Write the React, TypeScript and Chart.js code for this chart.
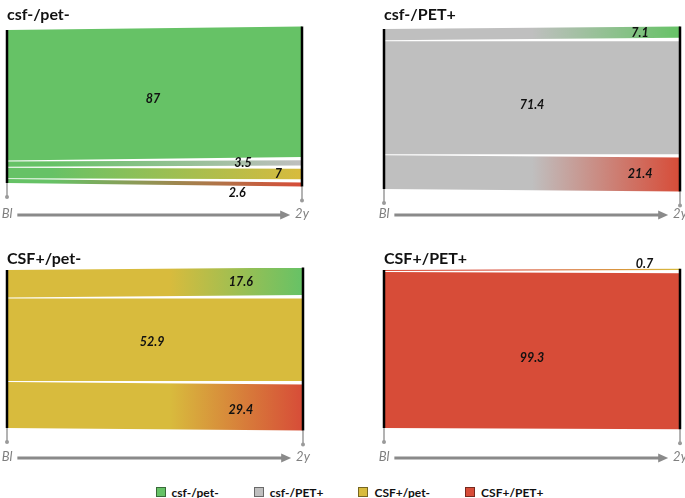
import React, { useEffect, useRef } from 'react';
import { Chart, registerables } from 'chart.js';

Chart.register(...registerables);

// ---------- data ----------
const states = ['csf-/pet-', 'csf-/PET+', 'CSF+/pet-', 'CSF+/PET+'];
const stateColors = ['#66c266', '#bfbfbf', '#d8bb3d', '#d74c38'];
const timeLabels = ['Bl', '2y'];

// % of each baseline group in each state at 2y (ordered as `states`)
const fromCsfNegPetNeg = [87, 3.5, 7, 2.6];
const fromCsfNegPetPos = [7.1, 71.4, 0, 21.4];
const fromCsfPosPetNeg = [17.6, 0, 52.9, 29.4];
const fromCsfPosPetPos = [0, 0, 0.7, 99.3];
const groupValues = [fromCsfNegPetNeg, fromCsfNegPetPos, fromCsfPosPetNeg, fromCsfPosPetPos];

// ---------- layout ----------
const FONT = 'Lato, "Open Sans", sans-serif';
const LEFT_GAP = 0.65;
const RIGHT_GAP = 2.2;
const PAD_L = 7;
const PAD_R = 8;
const TITLE_BLOCK = 24;
const AXIS_H = 15.6;
const STUB_PX = 14;

type PanelLayout = {
  left: number; top: number; x0: number; x1: number; y0: number; y100: number;
  areaBottom: number; gradStart: number; labelX: number[]; labelDy: number[];
};

const layouts: PanelLayout[] = [
  { left: 0, top: 0, x0: 7, x1: 302, y0: 30, y100: 183, areaBottom: 206, gradStart: 0.15, labelX: [0.495, 0.8, 0.92, 0.78], labelDy: [5, 0, 0, 0] },
  { left: 377, top: 0, x0: 384, x1: 680, y0: 29, y100: 189, areaBottom: 206, gradStart: 0.5, labelX: [0.865, 0.5, 0.5, 0.865], labelDy: [0, 7, 0, 0] },
  { left: 0, top: 244, x0: 7, x1: 303, y0: 270, y100: 428, areaBottom: 449, gradStart: 0.55, labelX: [0.79, 0.5, 0.49, 0.79], labelDy: [0, 0, 2.5, 3] },
  { left: 377, top: 244, x0: 384, x1: 680, y0: 270, y100: 428, areaBottom: 449, gradStart: 0.4, labelX: [0.5, 0.5, 0.88, 0.5], labelDy: [0, 0, 0, 7] },
];

function canvasSize(lay: PanelLayout) {
  const width = lay.x1 - lay.x0 + PAD_L + PAD_R;
  const height = Math.ceil(lay.areaBottom - lay.top + AXIS_H);
  return { width, height };
}

function buildChart(canvas: HTMLCanvasElement, k: number) {
  const values = groupValues[k];
  const lay = layouts[k];
  const src = stateColors[k];
  const idx = values.map((_, i) => i).filter((i) => values[i] > 0);
  const n = idx.length;
  const sum = idx.reduce((s, i) => s + values[i], 0);
  const L = sum + (n - 1) * LEFT_GAP;
  const R = sum + (n - 1) * RIGHT_GAP;
  const off = (L - R) / 2;
  const ppu = (lay.y100 - lay.y0) / L;
  const areaTop = lay.top + TITLE_BLOCK;
  const yMin = -(lay.y0 - areaTop) / ppu;
  const yMax = L + (lay.areaBottom - lay.y100) / ppu;
  const stubU = STUB_PX / ppu;
  const { height } = canvasSize(lay);
  const padBottom = height - (lay.areaBottom - lay.top) - AXIS_H;

  type Flow = { target: number; value: number; lt: number; lb: number; rt: number; rb: number; pos: number };
  const flows: Flow[] = [];
  let lc = 0;
  let rc = off;
  idx.forEach((i, p) => {
    flows.push({ target: i, value: values[i], lt: lc, lb: lc + values[i], rt: rc, rb: rc + values[i], pos: p });
    lc += values[i] + LEFT_GAP;
    rc += values[i] + RIGHT_GAP;
  });

  const lineBase = { pointRadius: 0, tension: 0, clip: false as any, fill: false };
  const datasets: any[] = [
    { ...lineBase, data: [{ x: 0, y: 0 }, { x: 0, y: L }], borderColor: '#000', borderWidth: 2.5, order: 0 },
    { ...lineBase, data: [{ x: 1, y: off }, { x: 1, y: off + R }], borderColor: '#000', borderWidth: 2.5, order: 0 },
    {
      ...lineBase, data: [{ x: 0, y: L }, { x: 0, y: L + stubU }], borderColor: '#9a9a9a', borderWidth: 1.5,
      pointRadius: [0, 2], pointBackgroundColor: '#9a9a9a', pointBorderWidth: 0, order: 0,
    },
    {
      ...lineBase, data: [{ x: 1, y: off + R }, { x: 1, y: off + R + stubU }], borderColor: '#9a9a9a', borderWidth: 1.5,
      pointRadius: [0, 2], pointBackgroundColor: '#9a9a9a', pointBorderWidth: 0, order: 0,
    },
  ];
  flows.forEach((f) => {
    const dst = stateColors[f.target];
    datasets.push({ ...lineBase, data: [{ x: 0, y: f.lt }, { x: 1, y: f.rt }], borderColor: 'rgba(0,0,0,0)', borderWidth: 0, order: 1 });
    datasets.push({
      ...lineBase,
      data: [{ x: 0, y: f.lb }, { x: 1, y: f.rb }],
      borderColor: 'rgba(0,0,0,0)',
      borderWidth: 0,
      order: 1,
      fill: '-1',
      backgroundColor: (ctx: any) => {
        if (dst === src) return src;
        const chart = ctx.chart;
        const xs = chart.scales && chart.scales.x;
        if (!chart.chartArea || !xs) return src;
        const g = chart.ctx.createLinearGradient(xs.getPixelForValue(lay.gradStart), 0, xs.getPixelForValue(1), 0);
        g.addColorStop(0, src);
        g.addColorStop(1, dst);
        return g;
      },
    });
  });

  const labelPlugin = {
    id: 'flowLabels',
    afterDatasetsDraw(chart: any) {
      const { ctx } = chart;
      const xs = chart.scales.x;
      const ys = chart.scales.y;
      ctx.save();
      ctx.font = `italic bold 12.5px ${FONT}`;
      ctx.fillStyle = '#111';
      ctx.textAlign = 'center';
      ctx.textBaseline = 'middle';
      flows.forEach((f) => {
        const fx = lay.labelX[f.target];
        const top = f.lt + (f.rt - f.lt) * fx;
        const bot = f.lb + (f.rb - f.lb) * fx;
        let y = ys.getPixelForValue((top + bot) / 2) + lay.labelDy[f.target];
        if (f.value < 3) {
          if (f.pos === n - 1) y = ys.getPixelForValue(bot) + 7;
          else if (f.pos === 0) y = ys.getPixelForValue(top) - 5;
        }
        ctx.fillText(String(f.value), xs.getPixelForValue(fx), y);
      });
      ctx.restore();
    },
  };

  const arrowPlugin = {
    id: 'timeArrow',
    afterDraw(chart: any) {
      const { ctx, chartArea } = chart;
      const xs = chart.scales.x;
      const y = chartArea.bottom + 9;
      const xa = xs.getPixelForValue(0.035);
      const xb = xs.getPixelForValue(0.96);
      ctx.save();
      ctx.strokeStyle = '#8a8a8a';
      ctx.fillStyle = '#8a8a8a';
      ctx.lineWidth = 2.8;
      ctx.beginPath();
      ctx.moveTo(xa, y);
      ctx.lineTo(xb - 8, y);
      ctx.stroke();
      ctx.beginPath();
      ctx.moveTo(xb, y);
      ctx.lineTo(xb - 10, y - 4.5);
      ctx.lineTo(xb - 10, y + 4.5);
      ctx.closePath();
      ctx.fill();
      ctx.restore();
    },
  };

  return new Chart(canvas, {
    type: 'line',
    data: { datasets },
    plugins: [labelPlugin, arrowPlugin],
    options: {
      responsive: false,
      animation: false,
      devicePixelRatio: 1,
      events: [],
      layout: { padding: { left: PAD_L, right: PAD_R, top: 0, bottom: padBottom } },
      plugins: {
        legend: { display: false },
        tooltip: { enabled: false },
        title: {
          display: true,
          text: states[k],
          align: 'start',
          color: '#111',
          font: { family: FONT, size: 16, weight: 'bold' },
          padding: { top: 4.8, bottom: 0 },
        },
      },
      scales: {
        x: {
          type: 'linear',
          min: 0,
          max: 1,
          grid: { display: false, drawTicks: false },
          border: { display: false },
          afterBuildTicks: (axis: any) => {
            axis.ticks = [{ value: 0 }, { value: 1 }];
          },
          ticks: {
            padding: 0,
            maxRotation: 0,
            autoSkip: false,
            color: '#7f7f7f',
            font: { family: FONT, size: 13, style: 'italic' },
            callback: (_v: any, i: number) => timeLabels[i],
          },
        },
        y: {
          type: 'linear',
          reverse: true,
          min: yMin,
          max: yMax,
          display: false,
        },
      },
    } as any,
  });
}

export default function App() {
  const refs = [useRef<HTMLCanvasElement>(null), useRef<HTMLCanvasElement>(null), useRef<HTMLCanvasElement>(null), useRef<HTMLCanvasElement>(null)];

  useEffect(() => {
    const charts = refs.map((r, k) => (r.current ? buildChart(r.current, k) : null));
    return () => {
      charts.forEach((c) => c && c.destroy());
    };
  }, []);

  return (
    <div style={{ position: 'absolute', left: 0, top: 0, width: 685, height: 498, overflow: 'hidden', background: '#fff' }}>
      {layouts.map((lay, k) => {
        const { width, height } = canvasSize(lay);
        return (
          <canvas
            key={k}
            ref={refs[k]}
            width={width}
            height={height}
            style={{ position: 'absolute', left: lay.x0 - PAD_L, top: lay.top, width, height }}
          />
        );
      })}
      <div
        style={{
          position: 'absolute', left: 0, top: 484, width: 685, height: 16, paddingLeft: 14, boxSizing: 'border-box',
          display: 'flex', justifyContent: 'center', alignItems: 'center', gap: 35,
          fontFamily: FONT, fontWeight: 'bold', fontSize: 12, color: '#111',
        }}
      >
        {states.map((s, i) => (
          <div key={s} style={{ display: 'flex', alignItems: 'center', whiteSpace: 'nowrap' }}>
            <span style={{ display: 'inline-block', width: 8, height: 8, background: stateColors[i], border: '1px solid rgba(0,0,0,0.45)', marginRight: 6 }} />
            {s}
          </div>
        ))}
      </div>
    </div>
  );
}
